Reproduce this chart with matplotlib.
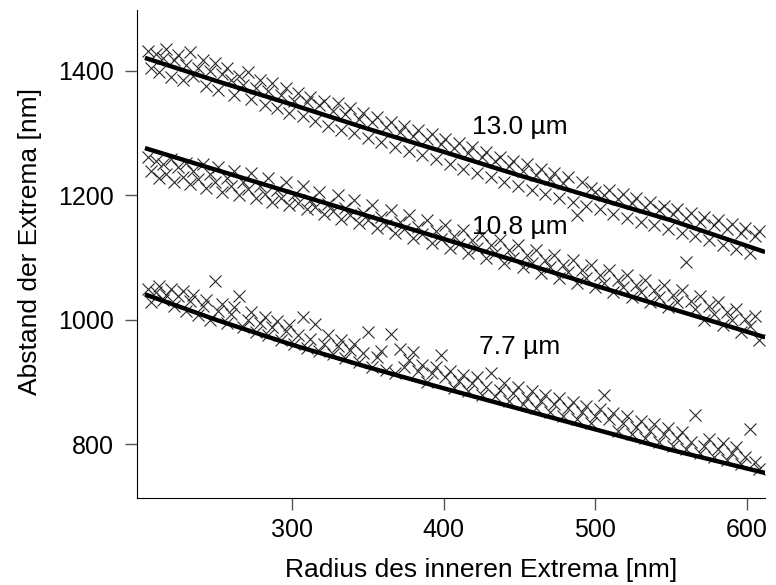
# plot.py
# Abstand der Extrema gegen Radius des inneren Extrema, drei Proben mit Fitkurven

import matplotlib
matplotlib.use("Agg")
import matplotlib.pyplot as plt

plt.rcParams['font.family'] = ['Liberation Sans', 'DejaVu Sans']

# gemessene Radien (gemeinsam fuer alle drei Serien)
radius = [205, 207, 210, 212, 215, 217, 220, 222, 225, 228,
          230, 233, 235, 238, 241, 243, 246, 249, 251, 254,
          257, 260, 262, 265, 268, 271, 273, 276, 279, 282,
          284, 287, 290, 293, 296, 298, 301, 304, 307, 310,
          312, 315, 318, 321, 324, 327, 330, 332, 335, 338,
          341, 344, 347, 350, 353, 356, 359, 362, 365, 368,
          371, 374, 377, 380, 383, 386, 389, 392, 395, 398,
          401, 404, 407, 410, 413, 416, 419, 422, 425, 428,
          431, 434, 437, 440, 443, 446, 449, 452, 455, 458,
          461, 464, 467, 470, 473, 476, 479, 482, 485, 488,
          491, 494, 497, 500, 503, 506, 509, 512, 515, 518,
          521, 524, 527, 530, 533, 536, 539, 542, 545, 548,
          551, 554, 557, 560, 563, 566, 569, 572, 575, 578,
          581, 584, 587, 590, 593, 596, 599, 602, 605, 608]

# 13.0 um
abstand_13 = [1432, 1405, 1428, 1398, 1420, 1436, 1390, 1417, 1425, 1385,
              1410, 1430, 1392, 1404, 1418, 1375, 1400, 1412, 1370, 1395,
              1405, 1385, 1362, 1392, 1378, 1398, 1355, 1372, 1385, 1345,
              1368, 1380, 1340, 1362, 1372, 1333, 1352, 1365, 1328, 1350,
              1358, 1320, 1345, 1352, 1312, 1335, 1348, 1305, 1330, 1340,
              1300, 1322, 1333, 1292, 1318, 1326, 1285, 1310, 1318, 1278,
              1302, 1312, 1272, 1296, 1305, 1265, 1290, 1298, 1258, 1282,
              1290, 1250, 1276, 1284, 1243, 1268, 1277, 1236, 1262, 1270,
              1230, 1255, 1262, 1222, 1248, 1256, 1215, 1240, 1250, 1208,
              1232, 1243, 1202, 1226, 1236, 1196, 1220, 1229, 1190, 1169,
              1222, 1183, 1212, 1205, 1178, 1200, 1208, 1170, 1195, 1202,
              1164, 1188, 1196, 1158, 1182, 1190, 1152, 1176, 1183, 1146,
              1170, 1178, 1140, 1164, 1172, 1134, 1158, 1166, 1128, 1152,
              1160, 1120, 1146, 1154, 1114, 1140, 1148, 1108, 1134, 1142]

# 10.8 um
abstand_10 = [1262, 1240, 1255, 1228, 1250, 1235, 1258, 1222, 1245, 1230,
              1252, 1218, 1240, 1226, 1250, 1212, 1235, 1222, 1245, 1206,
              1228, 1215, 1240, 1200, 1222, 1210, 1236, 1196, 1215, 1203,
              1228, 1190, 1208, 1196, 1222, 1184, 1200, 1188, 1215, 1178,
              1192, 1182, 1205, 1170, 1186, 1175, 1200, 1162, 1180, 1168,
              1192, 1155, 1172, 1160, 1185, 1148, 1165, 1152, 1176, 1140,
              1158, 1146, 1168, 1132, 1150, 1138, 1160, 1124, 1142, 1130,
              1152, 1116, 1135, 1122, 1145, 1108, 1128, 1115, 1136, 1100,
              1120, 1108, 1128, 1092, 1112, 1100, 1120, 1085, 1104, 1092,
              1112, 1076, 1096, 1085, 1104, 1068, 1088, 1077, 1096, 1060,
              1080, 1068, 1088, 1052, 1072, 1060, 1080, 1044, 1064, 1052,
              1072, 1036, 1056, 1045, 1064, 1028, 1048, 1036, 1056, 1020,
              1040, 1028, 1048, 1093, 1030, 1018, 1038, 1000, 1022, 1010,
              1028, 992, 1012, 1000, 1018, 980, 1002, 990, 1006, 968]

# 7.7 um
abstand_7 = [1050, 1028, 1045, 1055, 1032, 1040, 1050, 1022, 1038, 1046,
             1015, 1030, 1040, 1008, 1022, 1032, 1000, 1062, 1015, 1025,
             995, 1010, 1020, 1038, 988, 1000, 1012, 980, 995, 1005,
             975, 988, 998, 968, 982, 992, 962, 975, 1004, 955,
             970, 994, 950, 962, 975, 945, 958, 968, 938, 952,
             962, 932, 946, 980, 925, 940, 950, 920, 977, 915,
             953, 925, 935, 948, 918, 928, 900, 915, 925, 943,
             908, 918, 890, 902, 912, 885, 898, 908, 880, 892,
             915, 878, 888, 898, 870, 882, 892, 864, 875, 886,
             858, 870, 880, 852, 864, 874, 846, 858, 868, 840,
             852, 862, 835, 846, 856, 879, 840, 850, 822, 834,
             845, 816, 828, 838, 810, 822, 832, 804, 816, 826,
             798, 810, 820, 792, 804, 847, 786, 798, 808, 780,
             792, 802, 774, 786, 796, 768, 780, 825, 772, 760]

# Fitkurven
fit_radius = [203, 250, 300, 350, 400, 450, 500, 550, 612]
fit_13 = [1421, 1384, 1346, 1307, 1270, 1232, 1196, 1160, 1109]
fit_10 = [1276, 1241, 1204, 1167, 1130, 1093, 1055, 1018, 972]
fit_7 = [1041, 1000, 960, 924, 890, 857, 824, 791, 754]

labels = ['13.0 µm', '10.8 µm', '7.7 µm']
label_pos = [(419, 1310), (419, 1150), (423, 956)]

fig = plt.figure(figsize=(7.76, 5.85), dpi=100)
ax = fig.add_axes([0.177, 0.149, 0.809, 0.834])

for y in [abstand_13, abstand_10, abstand_7]:
    ax.plot(radius, y, ls='none', marker='x', ms=8.5, mew=0.8, color='#2a2a2a')

for y in [fit_13, fit_10, fit_7]:
    ax.plot(fit_radius, y, color='black', lw=3.2, solid_capstyle='butt')

for txt, (x, y) in zip(labels, label_pos):
    ax.text(x, y, txt, fontsize=19, ha='left', va='center')

ax.set_xlim(198, 612)
ax.set_ylim(714, 1498)
ax.set_xticks([300, 400, 500, 600])
ax.set_yticks([800, 1000, 1200, 1400])
ax.spines['top'].set_visible(False)
ax.spines['right'].set_visible(False)
ax.tick_params(direction='out', length=8.6, width=1, color='#555555', labelsize=18)
ax.tick_params(axis='x', pad=6)
ax.tick_params(axis='y', pad=8.5)

ax.set_xlabel('Radius des inneren Extrema [nm]', fontsize=19)
ax.set_ylabel('Abstand der Extrema [nm]', fontsize=19)
ax.xaxis.set_label_coords(0.5475, -0.124)
ax.yaxis.set_label_coords(-0.152, 0.526)

plt.savefig('out.png', dpi=100)
